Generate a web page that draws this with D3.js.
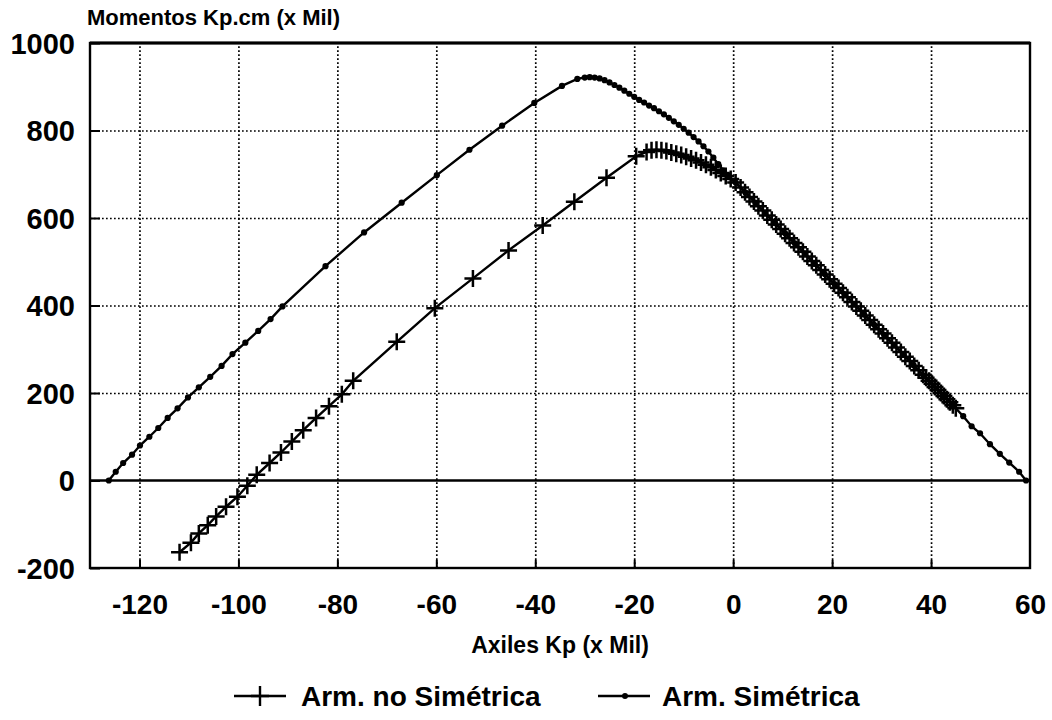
<!DOCTYPE html>
<html>
<head>
<meta charset="utf-8">
<script src="https://cdn.jsdelivr.net/npm/d3@7/dist/d3.min.js"></script>
<style>
    html, body { margin: 0; padding: 0; background: #fff; }
    svg { display: block; }
    text { font-family: "Liberation Sans", Arial, sans-serif; font-weight: bold; fill: #000; }
</style>
</head>
<body>
<svg id="chart" width="1052" height="720"></svg>
<script>
// ── data ────────────────────────────────────────────────────────────────────
const xTicks = [-120, -100, -80, -60, -40, -20, 0, 20, 40, 60];
const yTicks = [-200, 0, 200, 400, 600, 800, 1000];
const xTitle = 'Axiles Kp (x Mil)';
const yTitle = 'Momentos Kp.cm (x Mil)';
const seriesNames = ['Arm. no Simétrica', 'Arm. Simétrica'];

// Arm. no Simétrica  [axil, momento]
const noSimetrica = [
    [-111.9, -164], [-109.6, -142], [-108.0, -121], [-106.2, -102], [-104.5, -82],
    [-102.5, -60], [-100.2, -37], [-98.2, -12], [-96.3, 13], [-93.7, 40],
    [-91.4, 64], [-89.2, 89], [-86.9, 115], [-84.3, 143], [-81.7, 170],
    [-79.1, 197], [-76.8, 228], [-68.0, 317], [-60.3, 394], [-52.6, 462],
    [-45.4, 526], [-38.5, 583], [-32.1, 637], [-25.6, 692], [-19.6, 741],
    [-17.5, 751], [-16.5, 755], [-15.5, 756], [-14.5, 755], [-13.5, 753],
    [-12.5, 750], [-11.5, 747], [-10.5, 744], [-9.5, 740], [-8.5, 736],
    [-7.5, 732], [-6.5, 727], [-5.5, 722], [-4.5, 716], [-3.5, 710],
    [-2.5, 703], [-1.5, 696], [-0.5, 689], [0.5, 681], [1.5, 670],
    [2.4, 659], [3.3, 648], [4.2, 638], [5.1, 627], [6.0, 617],
    [6.9, 606], [7.8, 596], [8.7, 585], [9.6, 575], [10.5, 564],
    [11.4, 554], [12.3, 543], [13.2, 533], [14.1, 523], [15.0, 512],
    [15.9, 502], [16.8, 492], [17.7, 481], [18.6, 471], [19.5, 460],
    [20.4, 450], [21.3, 440], [22.2, 429], [23.1, 419], [24.0, 408],
    [24.9, 398], [25.8, 388], [26.7, 377], [27.6, 367], [28.5, 356],
    [29.4, 346], [30.3, 336], [31.2, 325], [32.1, 315], [33.0, 304],
    [33.9, 294], [34.8, 283], [35.7, 273], [36.6, 262], [37.5, 252],
    [38.4, 242], [39.0, 235], [39.6, 228], [40.2, 221], [40.8, 214],
    [41.4, 207], [42.0, 200], [42.6, 193], [43.2, 186], [43.8, 179],
    [44.4, 172], [45.0, 165]
];

// Arm. Simétrica  [axil, momento]
const simetrica = [
    [-126.2, 0], [-124.8, 20], [-123.3, 40], [-121.5, 59], [-119.9, 80],
    [-118.0, 100], [-116.2, 120], [-114.3, 143], [-112.3, 165], [-110.2, 190],
    [-108.0, 213], [-105.7, 237], [-103.4, 262], [-101.2, 289], [-98.6, 315],
    [-96.0, 342], [-93.5, 369], [-91.1, 398], [-82.4, 490], [-74.6, 567],
    [-67.0, 635], [-59.9, 698], [-53.3, 756], [-46.7, 811], [-40.2, 863],
    [-34.6, 902], [-31.5, 918], [-30.0, 921], [-29.0, 922], [-28.0, 921],
    [-27.0, 919], [-26.0, 915], [-25.0, 910], [-24.0, 904], [-23.0, 898],
    [-22.0, 891], [-21.0, 884], [-20.0, 877], [-19.0, 870], [-18.0, 864],
    [-17.0, 857], [-16.0, 851], [-15.0, 844], [-14.0, 837], [-13.0, 829],
    [-12.0, 821], [-11.0, 813], [-10.0, 804], [-9.0, 795], [-8.0, 785],
    [-7.0, 775], [-6.0, 764], [-5.0, 752], [-4.0, 738], [-3.0, 723],
    [-2.0, 709], [-1.0, 698], [0.5, 681], [2.5, 658], [4.5, 635],
    [6.5, 611], [8.5, 588], [10.5, 565], [12.5, 542], [14.5, 519],
    [16.5, 495], [18.5, 472], [20.5, 449], [22.5, 426], [24.5, 403],
    [26.5, 379], [28.5, 356], [30.5, 333], [32.5, 310], [34.5, 287],
    [36.5, 263], [38.5, 240], [40.5, 217], [42.5, 194], [44.5, 171],
    [46.5, 147], [48.2, 124], [49.9, 108], [51.9, 83], [53.9, 61],
    [55.8, 41], [57.8, 20], [59.2, 0]
];

(function () {
    'use strict';

    const svg = d3.select('#chart');

    const left = 90, right = 1030, top = 43, bottom = 568;

    const x = d3.scaleLinear().domain([-130, 60]).range([left, right]);
    const y = d3.scaleLinear().domain([-200, 1000]).range([bottom, top]);

    // the scan uses a plain hyphen, not the unicode minus d3 puts in
    const fmt = d => d < 0 ? '-' + Math.abs(d) : String(d);

    // ── dotted grid ─────────────────────────────────────────────────────────
    svg.append('g')
        .attr('transform', `translate(0,${bottom})`)
        .call(d3.axisBottom(x)
            .tickValues(xTicks.filter(v => v < 60))
            .tickSize(-(bottom - top))
            .tickFormat(''))
        .call(g => g.select('.domain').remove())
        .selectAll('line')
        .attr('stroke', '#000')
        .attr('stroke-width', 1.7)
        .attr('stroke-dasharray', '1.7,2.3');

    svg.append('g')
        .attr('transform', `translate(${left},0)`)
        .call(d3.axisLeft(y)
            .tickValues(yTicks.filter(v => v > -200 && v < 1000 && v !== 0))
            .tickSize(-(right - left))
            .tickFormat(''))
        .call(g => g.select('.domain').remove())
        .selectAll('line')
        .attr('stroke', '#000')
        .attr('stroke-width', 1.7)
        .attr('stroke-dasharray', '1.7,2.3');

    // ── inner tick marks ────────────────────────────────────────────────────
    svg.append('g')
        .attr('transform', `translate(0,${bottom})`)
        .call(d3.axisBottom(x).tickValues(xTicks.filter(v => v < 60)).tickSize(-8).tickFormat(''))
        .call(g => g.select('.domain').remove())
        .selectAll('line').attr('stroke', '#000').attr('stroke-width', 2);

    svg.append('g')
        .attr('transform', `translate(${left},0)`)
        .call(d3.axisLeft(y).tickValues(yTicks).tickSize(-10).tickFormat(''))
        .call(g => g.select('.domain').remove())
        .selectAll('line').attr('stroke', '#000').attr('stroke-width', 2);

    // ── zero line + frame ───────────────────────────────────────────────────
    svg.append('line')
        .attr('x1', left).attr('x2', right)
        .attr('y1', y(0)).attr('y2', y(0))
        .attr('stroke', '#000').attr('stroke-width', 2.4);

    svg.append('rect')
        .attr('x', left).attr('y', top)
        .attr('width', right - left).attr('height', bottom - top)
        .attr('fill', 'none').attr('stroke', '#000').attr('stroke-width', 2.4);

    svg.append('line')
        .attr('x1', left).attr('x2', right)
        .attr('y1', top).attr('y2', top)
        .attr('stroke', '#000').attr('stroke-width', 3.2);

    // ── tick labels ─────────────────────────────────────────────────────────
    svg.append('g')
        .attr('transform', `translate(0,${bottom})`)
        .call(d3.axisBottom(x).tickValues(xTicks).tickSize(0).tickPadding(26).tickFormat(fmt))
        .call(g => g.select('.domain').remove())
        .selectAll('text')
        .attr('fill', '#000')
        .style('font-size', '28px')
        .style('font-family', '"Liberation Sans", Arial, sans-serif')
        .style('font-weight', 'bold');

    svg.append('g')
        .attr('transform', `translate(${left},0)`)
        .call(d3.axisLeft(y).tickValues(yTicks).tickSize(0).tickPadding(15).tickFormat(fmt))
        .call(g => g.select('.domain').remove())
        .selectAll('text')
        .attr('fill', '#000')
        .attr('dy', '0.36em')
        .style('font-size', '29px')
        .style('font-family', '"Liberation Sans", Arial, sans-serif')
        .style('font-weight', 'bold');

    // ── axis titles ─────────────────────────────────────────────────────────
    svg.append('text')
        .attr('x', 87).attr('y', 25)
        .style('font-size', '22px')
        .text(yTitle);

    svg.append('text')
        .attr('x', (left + right) / 2).attr('y', 653)
        .attr('text-anchor', 'middle')
        .style('font-size', '23px')
        .text(xTitle);

    // ── curves ──────────────────────────────────────────────────────────────
    const line = d3.line().x(d => x(d[0])).y(d => y(d[1]));

    svg.append('path')
        .datum(simetrica)
        .attr('d', line)
        .attr('fill', 'none').attr('stroke', '#000').attr('stroke-width', 2.4);

    svg.append('path')
        .datum(noSimetrica)
        .attr('d', line)
        .attr('fill', 'none').attr('stroke', '#000').attr('stroke-width', 2.4);

    svg.append('g')
        .selectAll('circle')
        .data(simetrica)
        .enter()
        .append('circle')
        .attr('cx', d => x(d[0]))
        .attr('cy', d => y(d[1]))
        .attr('r', 3.1)
        .attr('fill', '#000');

    const arm = 8.5;
    const crossPath = `M${-arm},0H${arm}M0,${-arm}V${arm}`;

    svg.append('g')
        .selectAll('path')
        .data(noSimetrica)
        .enter()
        .append('path')
        .attr('transform', d => `translate(${x(d[0])},${y(d[1])})`)
        .attr('d', crossPath)
        .attr('stroke', '#000')
        .attr('stroke-width', 2.5)
        .attr('fill', 'none');

    // ── legend ──────────────────────────────────────────────────────────────
    const legendY = 696;
    const legendItems = [
        { name: seriesNames[0], x0: 234, kind: 'plus' },
        { name: seriesNames[1], x0: 598, kind: 'dot' }
    ];

    const item = svg.append('g')
        .selectAll('g')
        .data(legendItems)
        .enter()
        .append('g')
        .attr('transform', d => `translate(${d.x0},${legendY})`);

    item.append('line')
        .attr('x1', 0).attr('x2', 52)
        .attr('stroke', '#000').attr('stroke-width', 2.4);

    item.filter(d => d.kind === 'plus')
        .append('path')
        .attr('transform', 'translate(26,0)')
        .attr('d', 'M-9,0H9M0,-10V10')
        .attr('stroke', '#000').attr('stroke-width', 2.4);

    item.filter(d => d.kind === 'dot')
        .append('circle')
        .attr('cx', 27).attr('r', 3)
        .attr('fill', '#000');

    item.append('text')
        .attr('x', d => d.kind === 'plus' ? 67 : 64)
        .attr('y', 10)
        .style('font-size', '28px')
        .text(d => d.name);
})();
</script>
</body>
</html>
